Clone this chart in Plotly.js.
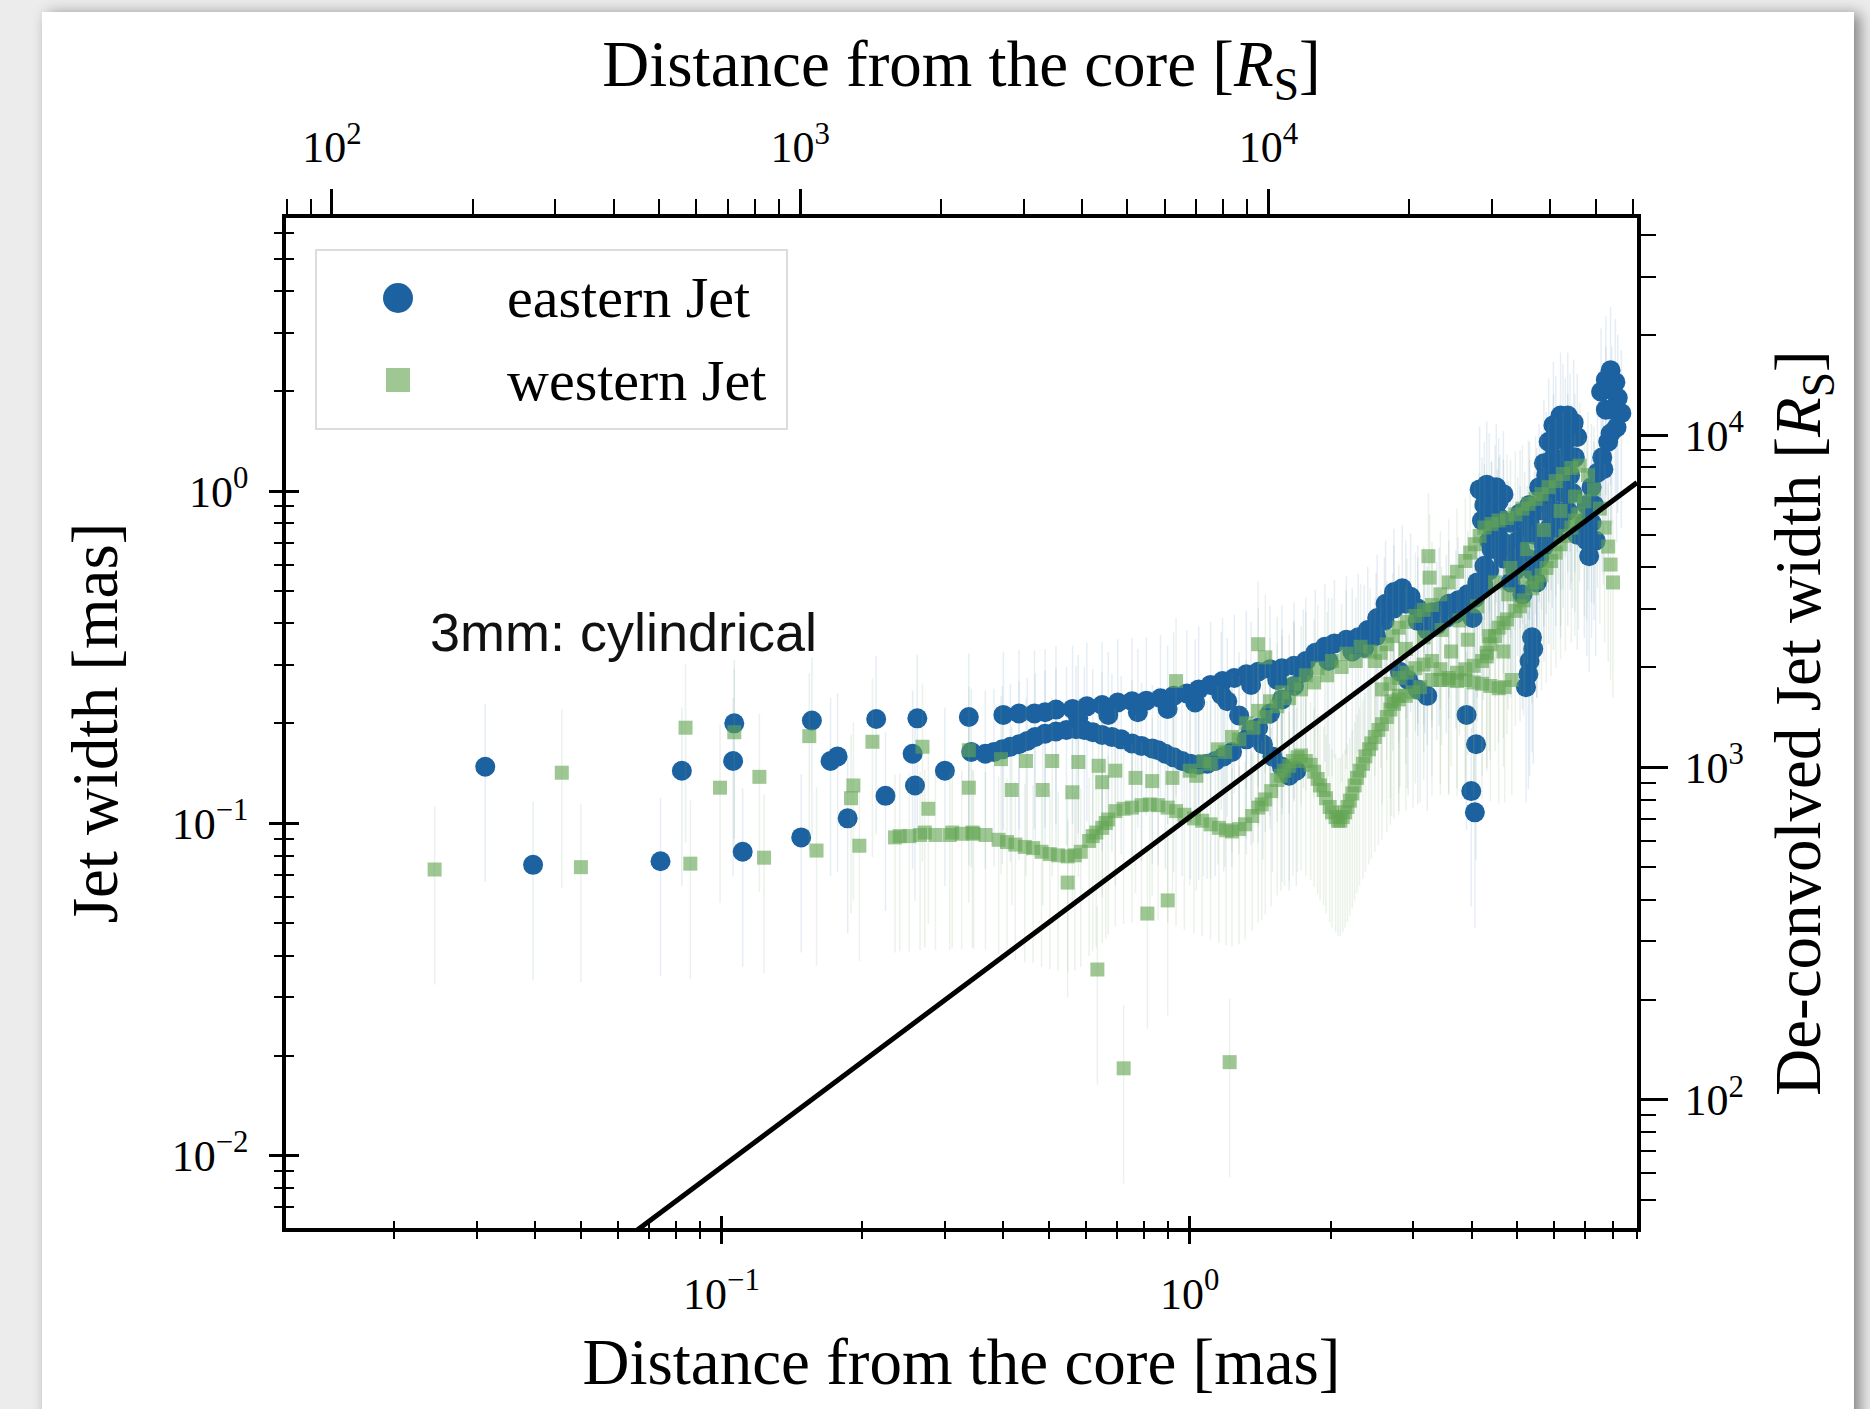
<!DOCTYPE html>
<html><head><meta charset="utf-8">
<script src="https://cdn.plot.ly/plotly-3.0.1.min.js"></script>
<style>
html,body{margin:0;padding:0;width:1870px;height:1409px;overflow:hidden;background:#ececec;}
#card{position:absolute;left:42px;top:12px;width:1812px;height:1420px;background:#fff;box-shadow:6px 2px 14px rgba(0,0,0,0.45);z-index:0;}
#chart{position:relative;z-index:1;width:1870px;height:1409px;}
</style></head><body>
<div id="card"></div><div id="chart"></div>
<script>
// ---------------- data (mas) ----------------
const eastX = [0.0313,0.0396,0.0741,0.0823,0.1065,0.1059,0.111,0.148,0.156,0.171,0.177,0.186,0.214,0.224,0.256,0.259,0.262,0.300,0.3375,0.3415,
 0.400,0.466,0.518,0.562,0.603,0.650,0.702,0.753,0.808,0.866,0.924,0.986,1.045,1.108,1.175,1.245,1.321,1.400,1.484,1.574,1.670,1.770,1.854,1.944,2.037,2.160,2.290,
 0.366,0.398,0.432,0.468,0.518,0.572,0.621,0.682,0.753,0.832,0.887,0.963,1.045,1.134,1.231,
 1.321,1.400,1.484,1.574,1.670,
 1.203,1.275,1.352,1.433,1.502,1.574,1.631,1.689,
 2.400,2.514,2.620,2.730,2.844,2.963,3.069,3.178,3.291,3.409,3.573,3.744,3.924,4.112,4.259,4.411,4.542,4.595,
 4.160,4.309,4.515,4.677,4.259,4.489,4.209,4.411,4.677,
 4.677,4.843,4.958,5.076,5.195,5.318,5.135,4.788,
 5.510,5.576,5.707,5.842,5.981,6.194,6.416,6.607,6.724,6.645,6.491,6.268,6.050,5.842,5.707,5.576,5.446,5.774,6.122,6.342,5.911,6.194,
 7.921,8.110,8.206,8.351,8.157,7.829,7.603,7.428,7.214,7.047,6.964,7.047,7.129,7.560,7.738,
 5.383,5.318,5.226,
 3.901,4.088,3.993,4.064,
 2.928,3.069,3.216,2.811,
 0.578,0.670,0.775,0.897,1.027,1.168,1.352,1.538,1.749,1.978,2.224,0.432,0.491,
 0.382,0.414,0.450,0.491,0.5455,0.5957,0.650,0.714,0.789,0.856,0.924,1.003,1.089,1.182,
 2.358,2.500,2.605,2.730,2.894,3.069,3.216,3.370,3.532,3.701,3.878,4.064,4.235,4.360,4.018,
 4.360,4.568,4.360,4.622,4.900,5.016,5.257,5.383,5.510,4.843,5.076,5.318,
 5.707,5.947,6.194,6.416,6.491,6.050,5.774,5.981,6.268,5.981,5.510,6.416,6.568,6.724,
 7.738,7.967,7.921,7.647,7.299,7.214,7.362,
 5.415,5.288];
const eastY = [0.148,0.0750,0.0769,0.144,0.200,0.154,0.0821,0.0907,0.204,0.154,0.159,0.1035,0.206,0.121,0.162,0.130,0.207,0.144,0.209,0.164,
 0.212,0.214,0.220,0.221,0.225,0.227,0.231,0.233,0.234,0.238,0.242,0.246,0.253,0.261,0.268,0.274,0.281,0.286,0.291,0.293,0.298,0.308,0.326,0.340,0.348,0.357,0.363,
 0.162,0.167,0.173,0.182,0.189,0.192,0.188,0.182,0.174,0.168,0.162,0.154,0.150,0.154,0.164,
 0.179,0.194,0.214,0.236,0.259,
 0.233,0.211,0.191,0.173,0.159,0.148,0.139,0.144,
 0.382,0.415,0.458,0.497,0.510,0.481,0.443,0.415,0.432,0.436,0.458,0.469,0.489,0.531,0.596,0.669,0.751,0.830,
 1.012,1.046,1.028,0.979,0.909,0.886,0.816,0.790,0.803,
 0.627,0.531,0.577,0.669,0.739,0.803,0.489,0.692,
 0.872,1.028,1.213,1.408,1.580,1.688,1.688,1.607,1.455,1.264,1.117,0.987,0.872,0.770,0.681,0.627,0.739,0.947,1.164,1.408,1.117,0.803,
 2.311,2.128,1.910,1.717,1.554,1.408,1.264,1.136,1.028,0.909,0.803,0.709,0.637,1.991,1.759,
 0.363,0.308,0.257,
 0.212,0.173,0.125,0.1079,
 0.270,0.253,0.242,0.286,
 0.207,0.212,0.216,0.221,0.231,0.244,0.261,0.270,0.284,0.308,0.329,0.214,0.216,
 0.164,0.170,0.177,0.186,0.191,0.191,0.1845,0.179,0.171,0.166,0.158,0.151,0.151,0.159,
 0.337,0.366,0.407,0.443,0.458,0.407,0.382,0.395,0.415,0.428,0.443,0.477,0.522,0.577,0.415,
 0.963,0.932,0.709,0.709,0.627,0.709,0.627,0.577,0.531,0.803,0.858,0.909,
 0.872,0.987,1.117,1.264,1.455,1.431,1.117,1.264,1.554,0.739,0.739,0.872,0.987,0.739,
 2.163,1.759,1.491,1.164,0.909,0.803,0.709,
 0.335,0.281];

const westX = [0.0244,0.0456,0.0501,0.0838,0.0858,0.0993,0.1065,0.1205,0.1233,0.154,0.1596,0.1913,0.1891,0.197,0.2101,0.2348,0.2687,0.2766,0.2718,0.311,0.3375,0.3455,
 0.3375,0.3954,0.447,0.5086,0.5784,0.639,0.6936,0.766,0.8316,0.9187,1.0,1.070,1.148,1.231,1.321,1.400,1.484,1.574,1.670,1.770,1.876,2.013,2.160,2.317,
 0.4168,0.4853,0.5617,0.6503,
 0.2403,0.2655,0.3073,0.3435,0.3664,0.3907,0.4242,0.463,0.5027,0.5487,0.5852,0.6098,0.6316,0.6503,0.6696,0.6936,0.7527,0.8219,0.8974,0.9741,1.063,1.154,1.231,1.313,1.400,1.450,1.493,1.538,1.593,1.660,1.729,
 1.812,1.876,1.932,1.990,2.049,2.097,2.147,2.198,2.250,2.304,2.372,2.442,2.529,2.635,2.730,
 0.5487,0.812,0.8974,0.635,0.7226,1.217,
 0.935,1.400,1.450,
 2.485,2.635,2.795,3.033,3.291,3.573,3.878,4.064,4.259,4.568,4.958,5.288,5.640,6.050,6.530,6.803,7.088,7.299,7.516,7.693,7.829,7.921,8.015,
 2.574,2.795,3.033,3.291,3.573,3.878,4.209,4.385,4.568,4.760,4.958,5.165,5.383,5.640,5.911,6.194,6.530,6.763,6.964,
 2.698,2.894,3.105,3.291,3.573,3.878,4.209,4.568,4.872,
 3.234,3.253,
 4.360,4.677,4.309,
 0.2519,0.2865,0.3259,0.4072,0.4445,0.4826,0.5236,0.5683,0.6206,0.6617,0.7226,0.789,0.856,0.935,1.021,1.108,1.196,1.275,1.360,1.425,1.565,1.631,1.699,1.770,
 1.844,1.898,1.955,2.013,2.073,2.122,2.172,2.224,2.276,2.344,2.414,2.485,2.574,2.682,2.795,
 1.033,1.108,1.189,1.275,1.368,1.450,1.538,1.631,1.729,1.844,1.966,2.110,2.263,2.428,
 2.559,2.714,2.911,3.160,3.430,3.723,3.970,4.160,4.411,4.760,5.135,5.478,5.842,6.268,
 2.682,2.911,3.160,3.430,3.723,4.041,4.309,4.489,4.677,5.076,5.510,5.774,6.050,6.342,6.645,
 2.894,3.160,3.450,3.767,4.112,4.489,4.843,5.257,5.707,6.194,6.645,3.924,3.615,4.788,5.195,
 2.795,2.998,3.430,3.723,4.041,4.385,4.705];
const westY = [0.0726,0.142,0.0738,0.194,0.0756,0.128,0.188,0.138,0.0788,0.183,0.0828,0.130,0.119,0.0856,0.176,0.0907,0.170,0.1106,0.0938,0.0938,0.128,0.0930,
 0.166,0.156,0.154,0.154,0.153,0.149,0.144,0.137,0.134,0.137,0.144,0.154,0.167,0.182,0.200,0.218,0.233,0.248,0.263,0.279,0.293,0.308,0.324,0.340,
 0.126,0.126,0.124,0.133,
 0.0915,0.0922,0.0922,0.0938,0.0922,0.0892,0.0863,0.0842,0.0808,0.0795,0.0821,0.0885,0.0938,0.0969,0.1027,0.1088,0.1115,0.114,0.1115,0.1061,0.1018,0.0969,0.0945,0.0993,0.1115,0.118,0.125,0.135,0.144,0.154,0.160,
 0.150,0.136,0.126,0.112,0.1044,0.1018,0.1079,0.117,0.130,0.144,0.159,0.174,0.191,0.209,0.229,
 0.0663,0.0535,0.0586,0.0363,0.0183,0.0191,
 0.268,0.346,0.316,
 0.308,0.346,0.388,0.421,0.454,0.531,0.616,0.692,0.777,0.816,0.851,0.916,0.979,1.072,1.174,1.193,1.117,1.012,0.886,0.777,0.681,0.601,0.531,
 0.253,0.274,0.293,0.308,0.274,0.291,0.308,0.346,0.388,0.411,0.436,0.469,0.510,0.558,0.616,0.692,0.777,0.851,0.932,
 0.233,0.242,0.257,0.270,0.270,0.270,0.263,0.255,0.270,
 0.637,0.549,
 0.366,0.329,0.318,
 0.0915,0.0922,0.0930,0.0878,0.0849,0.0821,0.0801,0.0801,0.0915,0.1002,0.1106,0.1134,0.1134,0.1088,0.1035,0.0993,0.0953,0.0961,0.1052,0.114,0.139,0.149,0.158,0.154,
 0.143,0.130,0.119,0.1079,0.1018,0.1044,0.112,0.123,0.137,0.151,0.167,0.182,0.1988,0.220,0.242,
 0.139,0.151,0.164,0.179,0.194,0.209,0.225,0.238,0.253,0.2655,0.279,0.2955,0.308,0.329,
 0.326,0.366,0.404,0.439,0.489,0.572,0.653,0.733,0.796,0.830,0.886,0.947,1.028,1.126,
 0.263,0.284,0.3005,0.291,0.284,0.298,0.326,0.366,0.401,0.450,0.531,0.587,0.653,0.733,0.816,
 0.335,0.363,0.382,0.408,0.450,0.531,0.587,0.669,0.764,0.872,0.963,0.357,0.329,0.489,0.549,
 0.236,0.248,0.270,0.268,0.2655,0.259,0.257];

// power-law fit drawn as the black line: width = FIT_A * r^FIT_B
const FIT_A = 0.1045;
const FIT_B = 1.054;
const fitX = [0.06, 9.02];

// unit conversion (mas -> Schwarzschild radii)
const RS_PER_MAS = 6790;

// axis ranges (mas) and tick labels
const X_RANGE = [0.01175, 9.02];
const Y_RANGE = [0.00605, 6.64];
const X_TICKS = [0.1, 1];
const X_TICKTEXT = ['10<sup>\u22121</sup>', '10<sup>0</sup>'];
const Y_TICKS = [0.01, 0.1, 1];
const Y_TICKTEXT = ['10<sup>\u22122</sup>', '10<sup>\u22121</sup>', '10<sup>0</sup>'];
const RS_TICKS = [100, 1000, 10000];
const RS_TICKTEXT = ['10<sup>2</sup>', '10<sup>3</sup>', '10<sup>4</sup>'];

// ---------------- build ----------------
const SERIF = 'Liberation Serif, Times New Roman, serif';
const BLUE = '#1c62a1';
const GREEN = 'rgba(98,164,82,0.62)';
const lk = Math.log10(RS_PER_MAS);
const xr = X_RANGE.map(Math.log10), yr = Y_RANGE.map(Math.log10);
const x2r = xr.map(v => v + lk), y2r = yr.map(v => v + lk);

function minorTicks(lo, hi){
  const out = [];
  for (let d = Math.floor(Math.log10(lo)); d <= Math.ceil(Math.log10(hi)); d++) {
    for (let m = 2; m <= 9; m++) { const v = m * Math.pow(10, d); if (v >= lo && v <= hi) out.push(v); }
  }
  return out;
}
const rsX = X_RANGE.map(v => v * RS_PER_MAS), rsY = Y_RANGE.map(v => v * RS_PER_MAS);

const traces = [
  {x: eastX, y: eastY, type: 'scatter', mode: 'markers', name: 'eastern Jet', showlegend: false,
   marker: {symbol: 'circle', size: 20, color: BLUE, line: {width: 0}},
   error_y: {type: 'percent', value: 55, color: 'rgba(90,140,190,0.15)', thickness: 1.5, width: 0}},
  {x: westX, y: westY, type: 'scatter', mode: 'markers', name: 'western Jet', showlegend: false,
   marker: {symbol: 'square', size: 14, color: GREEN, line: {width: 0}},
   error_y: {type: 'percent', value: 55, color: 'rgba(120,170,110,0.15)', thickness: 1.5, width: 0}},
  {x: fitX, y: fitX.map(v => FIT_A * Math.pow(v, FIT_B)), type: 'scatter', mode: 'lines', name: 'fit', showlegend: false,
   line: {color: '#000', width: 5}},
  // empty carriers so the secondary (R_S) and inner-tick axes are drawn
  {x: [null], y: [null], xaxis: 'x2', yaxis: 'y2', type: 'scatter', mode: 'markers', showlegend: false, hoverinfo: 'skip'},
  {x: [null], y: [null], xaxis: 'x3', yaxis: 'y3', type: 'scatter', mode: 'markers', showlegend: false, hoverinfo: 'skip'}
];

const tickfont = {family: SERIF, size: 44, color: '#000'};
const titlefont = {family: SERIF, size: 65, color: '#000'};
const base = {type: 'log', showgrid: false, zeroline: false, linecolor: '#000', linewidth: 4,
  tickcolor: '#000', tickfont: tickfont, automargin: false, fixedrange: true};

const layout = {
  width: 1870, height: 1409,
  margin: {l: 286, r: 233, t: 218, b: 181, pad: 0},
  paper_bgcolor: 'rgba(0,0,0,0)', plot_bgcolor: 'rgba(0,0,0,0)',
  showlegend: false,
  xaxis: Object.assign({}, base, {range: xr, side: 'bottom', anchor: 'y', showline: true, mirror: false,
    ticks: 'outside', ticklen: 12, tickwidth: 3, tickvals: X_TICKS, ticktext: X_TICKTEXT, ticklabelstandoff: 12,
    minor: {tickvals: minorTicks(X_RANGE[0], X_RANGE[1]), ticks: 'outside', ticklen: 7, tickwidth: 2, tickcolor: '#000', showgrid: false},
    title: {text: 'Distance from the core [mas]', font: titlefont, standoff: 22}}),
  xaxis3: Object.assign({}, base, {range: xr, side: 'bottom', anchor: 'y', overlaying: 'x', showline: false,
    ticks: 'inside', ticklen: 12, tickwidth: 3, tickvals: X_TICKS, showticklabels: false,
    minor: {tickvals: minorTicks(X_RANGE[0], X_RANGE[1]), ticks: 'inside', ticklen: 7, tickwidth: 2, tickcolor: '#000', showgrid: false}}),
  xaxis2: Object.assign({}, base, {range: x2r, side: 'top', anchor: 'y', overlaying: 'x', showline: true,
    ticks: 'outside', ticklen: 25, tickwidth: 3, tickvals: RS_TICKS, ticktext: RS_TICKTEXT, ticklabelstandoff: 9,
    minor: {tickvals: minorTicks(rsX[0], rsX[1]), ticks: 'outside', ticklen: 15, tickwidth: 2, tickcolor: '#000', showgrid: false},
    title: {text: 'Distance from the core [<i>R</i><sub>S</sub>]', font: titlefont, standoff: 10}}),
  yaxis: Object.assign({}, base, {range: yr, side: 'left', anchor: 'x', showline: true, linewidth: 3.5,
    ticks: 'outside', ticklen: 13, tickwidth: 3, tickvals: Y_TICKS, ticktext: Y_TICKTEXT, ticklabelstandoff: 12,
    minor: {tickvals: minorTicks(Y_RANGE[0], Y_RANGE[1]), ticks: 'outside', ticklen: 8, tickwidth: 2, tickcolor: '#000', showgrid: false},
    title: {text: 'Jet width [mas]', font: titlefont, standoff: 34}}),
  yaxis3: Object.assign({}, base, {range: yr, side: 'left', anchor: 'x', overlaying: 'y', showline: false,
    ticks: 'inside', ticklen: 13, tickwidth: 3, tickvals: Y_TICKS, showticklabels: false,
    minor: {tickvals: minorTicks(Y_RANGE[0], Y_RANGE[1]), ticks: 'inside', ticklen: 8, tickwidth: 2, tickcolor: '#000', showgrid: false}}),
  yaxis2: Object.assign({}, base, {range: y2r, side: 'right', anchor: 'x', overlaying: 'y', showline: true, linewidth: 3.5,
    ticks: 'outside', ticklen: 27, tickwidth: 3, tickvals: RS_TICKS, ticktext: RS_TICKTEXT, ticklabelstandoff: 8,
    minor: {tickvals: minorTicks(rsY[0], rsY[1]), ticks: 'outside', ticklen: 15, tickwidth: 2, tickcolor: '#000', showgrid: false},
    title: {text: 'De-convolved Jet width [<i>R</i><sub>S</sub>]', font: titlefont, standoff: 33}}),
  shapes: [
    {type: 'rect', xref: 'paper', yref: 'paper', x0: 0.0222, x1: 0.3708, y0: 0.7911, y1: 0.9683,
     line: {color: '#dcdcdc', width: 2}, fillcolor: 'rgba(255,255,255,0.85)', layer: 'above'},
    {type: 'circle', xref: 'paper', yref: 'paper', xsizemode: 'pixel', ysizemode: 'pixel',
     xanchor: 0.0829, yanchor: 0.9208, x0: -15, x1: 15, y0: -15, y1: 15,
     fillcolor: BLUE, line: {width: 0}, layer: 'above'},
    {type: 'rect', xref: 'paper', yref: 'paper', xsizemode: 'pixel', ysizemode: 'pixel',
     xanchor: 0.0829, yanchor: 0.8396, x0: -12, x1: 12, y0: -12, y1: 12,
     fillcolor: GREEN, line: {width: 0}, layer: 'above'}
  ],
  annotations: [
    {text: 'eastern Jet', xref: 'paper', yref: 'paper', x: 0.1621, y: 0.9208, xanchor: 'left', yanchor: 'middle',
     showarrow: false, font: {family: SERIF, size: 58, color: '#000'}},
    {text: 'western Jet', xref: 'paper', yref: 'paper', x: 0.1621, y: 0.8396, xanchor: 'left', yanchor: 'middle',
     showarrow: false, font: {family: SERIF, size: 58, color: '#000'}},
    {text: '3mm: cylindrical', xref: 'paper', yref: 'paper', x: 0.2497, y: 0.590, xanchor: 'center', yanchor: 'middle',
     showarrow: false, font: {family: 'Liberation Sans, Arial, sans-serif', size: 54, color: '#111'}}
  ]
};

Plotly.newPlot('chart', traces, layout, {displayModeBar: false, responsive: false});
</script></body></html>
